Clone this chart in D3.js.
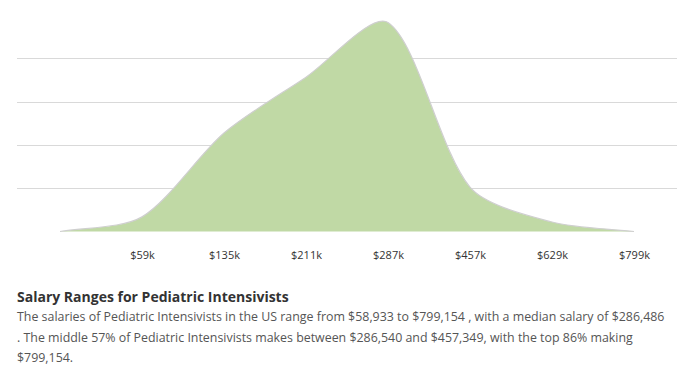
<!DOCTYPE html>
<html>
<head>
<meta charset="utf-8">
<script src="https://cdn.jsdelivr.net/npm/d3@7"></script>
<style>
  html, body { margin: 0; padding: 0; background: #fff; }
  svg { display: block; font-family: "Open Sans", sans-serif; }
  .grid line { stroke: #d9d9d9; stroke-width: 1; }
  .x-axis text { font-size: 11px; fill: #333; }
  .title { font-size: 14px; font-weight: 700; fill: #333; }
  .desc { font-size: 12.4px; fill: #555; }
</style>
</head>
<body>
<div id="chart"></div>
<script>
// Salary distribution, Pediatric Intensivists
const labels = ["", "$59k", "$135k", "$211k", "$287k", "$457k", "$629k", "$799k"];
const values = [0, 3.4, 22.9, 35.9, 48.6, 10.3, 2.2, 0];
const gridTicks = [10, 20, 30, 40];

const titleText = "Salary Ranges for Pediatric Intensivists";
const descLines = [
    "The salaries of Pediatric Intensivists in the US range from $58,933 to $799,154 , with a median salary of $286,486",
    ". The middle 57% of Pediatric Intensivists makes between $286,540 and $457,349, with the top 86% making",
    "$799,154."
];

// Courbe spline (contrôle proportionnel aux distances)
function splineCurve(context) {
    const t = 0.28;
    return {
        areaStart() { this._line = 0; },
        areaEnd() { this._line = NaN; },
        lineStart() { this._pts = []; },
        point(x, y) { this._pts.push([x, y]); },
        lineEnd() {
            const p = this._pts;
            const n = p.length;
            if (n) {
                if (this._line) context.lineTo(p[0][0], p[0][1]);
                else context.moveTo(p[0][0], p[0][1]);
            }
            const ctrl = p.map((cur, i) => {
                const prev = p[Math.max(i - 1, 0)];
                const next = p[Math.min(i + 1, n - 1)];
                const d01 = Math.hypot(cur[0] - prev[0], cur[1] - prev[1]);
                const d12 = Math.hypot(next[0] - cur[0], next[1] - cur[1]);
                let s01 = d01 / (d01 + d12), s12 = d12 / (d01 + d12);
                if (isNaN(s01)) s01 = 0;
                if (isNaN(s12)) s12 = 0;
                const fa = t * s01, fb = t * s12;
                const dx = next[0] - prev[0], dy = next[1] - prev[1];
                return {
                    prev: [cur[0] - fa * dx, cur[1] - fa * dy],
                    next: [cur[0] + fb * dx, cur[1] + fb * dy]
                };
            });
            for (let i = 1; i < n; i++) {
                const a = ctrl[i - 1].next, b = ctrl[i].prev;
                context.bezierCurveTo(a[0], a[1], b[0], b[1], p[i][0], p[i][1]);
            }
            if (this._line || (this._line !== 0 && n === 1)) context.closePath();
            this._line = 1 - this._line;
        }
    };
}

function createChart() {
    const width = 693;
    const height = 376;

    const svg = d3.select("#chart")
        .append("svg")
        .attr("width", width)
        .attr("height", height);

    // Échelles
    const x = d3.scalePoint()
        .domain(d3.range(labels.length))
        .range([60, 634]);

    const y = d3.scaleLinear()
        .domain([0, 50])
        .range([231.5, 16.5]);

    // Grille
    svg.append("g")
        .attr("class", "grid")
        .selectAll("line")
        .data(gridTicks)
        .enter()
        .append("line")
        .attr("x1", 17)
        .attr("x2", 677)
        .attr("y1", d => Math.round(y(d)) - 0.5)
        .attr("y2", d => Math.round(y(d)) - 0.5);

    // Aire
    const area = d3.area()
        .x((d, i) => x(i))
        .y0(y(0))
        .y1(d => y(d))
        .curve(splineCurve);

    const line = d3.line()
        .x((d, i) => x(i))
        .y(d => y(d))
        .curve(splineCurve);

    svg.append("path")
        .datum(values)
        .attr("d", area)
        .attr("fill", "#c0d9a5");

    svg.append("path")
        .datum(values)
        .attr("d", line)
        .attr("fill", "none")
        .attr("stroke", "#cfcfcf")
        .attr("stroke-width", 1.2);

    // Axe x
    const xAxis = svg.append("g")
        .attr("class", "x-axis")
        .attr("transform", `translate(0,${y(0)})`)
        .call(d3.axisBottom(x)
            .tickSize(0)
            .tickPadding(20)
            .tickFormat(i => labels[i]));

    xAxis.attr("font-family", null).attr("font-size", null);
    xAxis.select(".domain").remove();
    xAxis.selectAll("text").attr("fill", null);

    // Texte
    svg.append("text")
        .attr("class", "title")
        .attr("x", 17)
        .attr("y", 302)
        .text(titleText);

    svg.append("g")
        .selectAll("text")
        .data(descLines)
        .enter()
        .append("text")
        .attr("class", "desc")
        .attr("x", 17)
        .attr("y", (d, i) => 321 + i * 20.5)
        .text(d => d);
}

createChart();
</script>
</body>
</html>
